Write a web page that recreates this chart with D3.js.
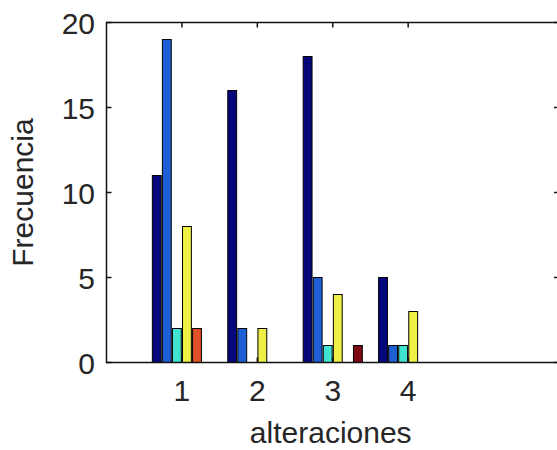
<!DOCTYPE html>
<html>
<head>
<meta charset="utf-8">
<script src="https://cdn.jsdelivr.net/npm/d3@7"></script>
<style>
  html, body { margin: 0; padding: 0; background: #fff; }
  svg { display: block; }
  text { font-family: "Liberation Sans", Arial, Helvetica, sans-serif; fill: #262626; }
</style>
</head>
<body>
<script>
// Grouped frequency bars: one group per number of alterations, six series each.
const categories = [1, 2, 3, 4];
const serie1 = [11, 16, 18, 5];
const serie2 = [19, 2, 5, 1];
const serie3 = [2, 0, 1, 1];
const serie4 = [8, 2, 4, 3];
const serie5 = [2, 0, 0, 0];
const serie6 = [0, 0, 1, 0];
const seriesValues = [serie1, serie2, serie3, serie4, serie5, serie6];
const seriesColors = ["#07077c", "#1f5fd6", "#3fe3d0", "#eef046", "#e2522a", "#7c0a12"];
const xTicks = [1, 2, 3, 4];
const yTicks = [0, 5, 10, 15, 20];

const W = 557, H = 450;
const margin = { left: 106.5, top: 22.5, right: -2, bottom: 87.5 };

const svg = d3.select("body").append("svg").attr("width", W).attr("height", H);

const x = d3.scaleLinear().domain([0, 6]).range([margin.left, W - margin.right]);
const y = d3.scaleLinear().domain([0, 20]).range([H - margin.bottom, margin.top]);

// Slot layout inside each group (group width 0.8 of a unit)
const nSeries = seriesValues.length;
const groupWidth = 0.8;
const slot = groupWidth / nSeries;
const barW = slot * 0.88;

const bars = svg.append("g");
seriesValues.forEach((vals, s) => {
  const off = (s - (nSeries - 1) / 2) * slot;
  bars.selectAll(null)
    .data(categories.map((c, i) => ({ c, v: vals[i] })).filter(d => d.v > 0))
    .enter().append("rect")
    .attr("x", d => x(d.c + off - barW / 2))
    .attr("width", d => x(d.c + off + barW / 2) - x(d.c + off - barW / 2))
    .attr("y", d => y(d.v))
    .attr("height", d => y(0) - y(d.v))
    .attr("fill", seriesColors[s])
    .attr("stroke", "#000")
    .attr("stroke-width", 1);
});

// Axes box with inward ticks on all four sides
const x0 = x.range()[0], x1 = x.range()[1];
const y0 = y.range()[0], y1 = y.range()[1];
const tickLen = 5;
const axisG = svg.append("g").attr("stroke", "#111").attr("stroke-width", 1.5).attr("fill", "none");
axisG.append("rect").attr("x", x0).attr("y", y1).attr("width", x1 - x0).attr("height", y0 - y1);

xTicks.forEach(t => {
  axisG.append("line").attr("x1", x(t)).attr("x2", x(t)).attr("y1", y0).attr("y2", y0 - tickLen);
  axisG.append("line").attr("x1", x(t)).attr("x2", x(t)).attr("y1", y1).attr("y2", y1 + tickLen);
});
yTicks.forEach(t => {
  axisG.append("line").attr("x1", x0).attr("x2", x0 + tickLen).attr("y1", y(t)).attr("y2", y(t));
  axisG.append("line").attr("x1", x1).attr("x2", x1 - tickLen).attr("y1", y(t)).attr("y2", y(t));
});

// Tick labels
const fs = 30;
svg.append("g").selectAll("text").data(xTicks).enter().append("text")
  .attr("x", d => x(d)).attr("y", 401)
  .attr("text-anchor", "middle").attr("font-size", fs)
  .text(d => d);

svg.append("g").selectAll("text").data(yTicks).enter().append("text")
  .attr("x", 95).attr("y", d => y(d) + 11)
  .attr("text-anchor", "end").attr("font-size", fs)
  .text(d => d);

// Axis titles
svg.append("text")
  .attr("x", (x(0) + x(6)) / 2 - 2).attr("y", 443)
  .attr("text-anchor", "middle").attr("font-size", fs)
  .text("alteraciones");

svg.append("text")
  .attr("transform", `translate(33, ${(y0 + y1) / 2}) rotate(-90)`)
  .attr("text-anchor", "middle").attr("font-size", fs)
  .text("Frecuencia");
</script>
</body>
</html>
